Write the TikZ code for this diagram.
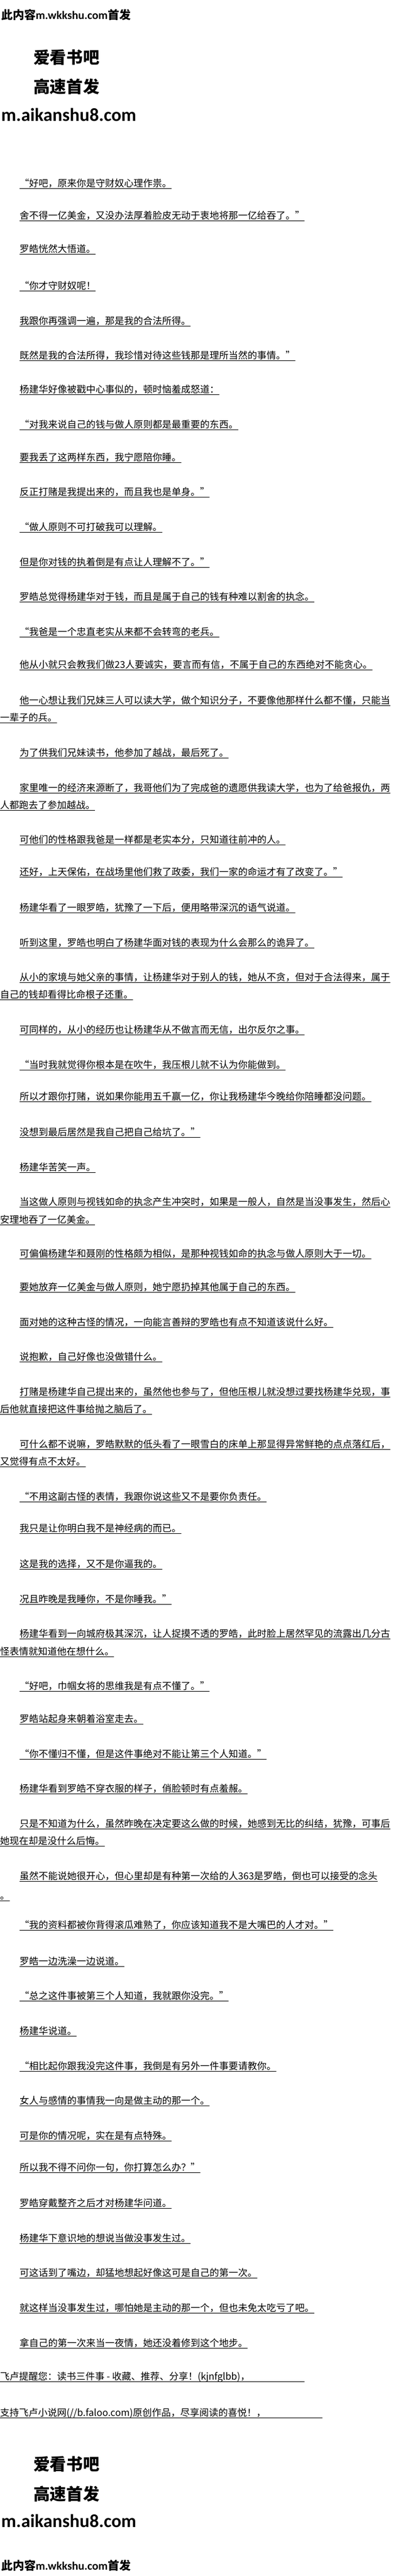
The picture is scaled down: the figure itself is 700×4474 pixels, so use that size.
\documentclass[tikz,border=0pt]{standalone}
\usepackage{fontspec}
\newfontfamily\cjk{Noto Sans CJK SC}
\newfontfamily\carl{Carlito}
\newcommand\tl[4]{\node[txt] (#1) at (#2,#3) {#4};\draw[ul] ([yshift=-3pt]#1.base west) -- ([yshift=-3pt]#1.base east);}
\newcommand\ftl[5]{\node[txt] (#1) at (#2,#3) {#4};\coordinate (#1e) at (#5,#3);\draw[ul] ([yshift=-3pt]#1.base west) -- ([yshift=-3]#1e);}
\begin{document}
\begin{tikzpicture}[x=1pt,y=-1pt,
  txt/.style={anchor=base west,inner sep=0pt,font=\cjk\fontsize{16.5}{20}\selectfont},
  ul/.style={line width=0.7pt},
  hd/.style={anchor=base west,inner sep=0pt,font=\cjk\bfseries\fontsize{28.6}{32}\selectfont},
  url/.style={anchor=base west,inner sep=0pt,font=\carl\bfseries\fontsize{32}{36}\selectfont},
  top/.style={anchor=base west,inner sep=0pt,font=\cjk\bfseries\fontsize{20}{24}\selectfont}]
\useasboundingbox[fill=white] (0,0) rectangle (700,4474);
\node[top] (h1) at (2,33) {此内容{\carl\bfseries m.wkkshu.com}首发};
\node[hd] (h2) at (58,110) {爱看书吧};
\node[hd] (h3) at (58,161) {高速首发};
\node[url] (h4) at (2,210) {m.aikanshu8.com};
\def\I{34}
\tl{a1}{\I}{324}{“好吧，原来你是守财奴心理作祟。}
\tl{a2}{\I}{380}{舍不得一亿美金，又没办法厚着脸皮无动于衷地将那一亿给吞了。”}
\tl{a3}{\I}{438}{罗皓恍然大悟道。}
\tl{a4}{\I}{502}{“你才守财奴呢！}
\tl{a5}{\I}{563}{我跟你再强调一遍，那是我的合法所得。}
\tl{a6}{\I}{623}{既然是我的合法所得，我珍惜对待这些钱那是理所当然的事情。”}
\tl{a7}{\I}{682}{杨建华好像被戳中心事似的，顿时恼羞成怒道：}
\tl{a8}{\I}{743}{“对我来说自己的钱与做人原则都是最重要的东西。}
\tl{a9}{\I}{800}{要我丢了这两样东西，我宁愿陪你睡。}
\tl{a10}{\I}{860}{反正打赌是我提出来的，而且我也是单身。”}
\tl{a11}{\I}{921}{“做人原则不可打破我可以理解。}
\tl{a12}{\I}{982}{但是你对钱的执着倒是有点让人理解不了。”}
\tl{a13}{\I}{1042}{罗皓总觉得杨建华对于钱，而且是属于自己的钱有种难以割舍的执念。}
\tl{a14}{\I}{1103}{“我爸是一个忠直老实从来都不会转弯的老兵。}
\tl{a15}{\I}{1160}{他从小就只会教我们做23人要诚实，要言而有信，不属于自己的东西绝对不能贪心。}
\tl{a16}{\I}{1222}{他一心想让我们兄妹三人可以读大学，做个知识分子，不要像他那样什么都不懂，只能当}
\tl{a16b}{0}{1252}{一辈子的兵。}
\tl{a17}{\I}{1313}{为了供我们兄妹读书，他参加了越战，最后死了。}
\tl{a18}{\I}{1374}{家里唯一的经济来源断了，我哥他们为了完成爸的遗愿供我读大学，也为了给爸报仇，两}
\tl{a18b}{0}{1404}{人都跑去了参加越战。}
\tl{a19}{\I}{1464}{可他们的性格跟我爸是一样都是老实本分，只知道往前冲的人。}
\tl{a20}{\I}{1520}{还好，上天保佑，在战场里他们救了政委，我们一家的命运才有了改变了。”}
\tl{a21}{\I}{1582}{杨建华看了一眼罗皓，犹豫了一下后，便用略带深沉的语气说道。}
\tl{a22}{\I}{1643}{听到这里，罗皓也明白了杨建华面对钱的表现为什么会那么的诡异了。}
\tl{a23}{\I}{1703}{从小的家境与她父亲的事情，让杨建华对于别人的钱，她从不贪，但对于合法得来，属于}
\tl{a23b}{0}{1733}{自己的钱却看得比命根子还重。}
\tl{a24}{\I}{1794}{可同样的，从小的经历也让杨建华从不做言而无信，出尔反尔之事。}
\tl{a25}{\I}{1855}{“当时我就觉得你根本是在吹牛，我压根儿就不认为你能做到。}
\tl{a26}{\I}{1910}{所以才跟你打赌，说如果你能用五千赢一亿，你让我杨建华今晚给你陪睡都没问题。}
\tl{a27}{\I}{1972}{没想到最后居然是我自己把自己给坑了。”}
\tl{a28}{\I}{2033}{杨建华苦笑一声。}
\tl{a29}{\I}{2093}{当这做人原则与视钱如命的执念产生冲突时，如果是一般人，自然是当没事发生，然后心}
\tl{a29b}{0}{2124}{安理地吞了一亿美金。}
\tl{a30}{\I}{2183}{可偏偏杨建华和聂刚的性格颇为相似，是那种视钱如命的执念与做人原则大于一切。}
\tl{a31}{\I}{2241}{要她放弃一亿美金与做人原则，她宁愿扔掉其他属于自己的东西。}
\tl{a32}{\I}{2302}{面对她的这种古怪的情况，一向能言善辩的罗皓也有点不知道该说什么好。}
\tl{a33}{\I}{2362}{说抱歉，自己好像也没做错什么。}
\tl{a34}{\I}{2423}{打赌是杨建华自己提出来的，虽然他也参与了，但他压根儿就没想过要找杨建华兑现，事}
\tl{a34b}{0}{2453}{后他就直接把这件事给抛之脑后了。}
\tl{a35}{\I}{2514}{可什么都不说嘛，罗皓默默的低头看了一眼雪白的床单上那显得异常鲜艳的点点落红后，}
\tl{a35b}{0}{2544}{又觉得有点不太好。}
\tl{a36}{\I}{2605}{“不用这副古怪的表情，我跟你说这些又不是要你负责任。}
\tl{a37}{\I}{2660}{我只是让你明白我不是神经病的而已。}
\tl{a38}{\I}{2722}{这是我的选择，又不是你逼我的。}
\tl{a39}{\I}{2783}{况且昨晚是我睡你，不是你睡我。”}
\tl{a40}{\I}{2843}{杨建华看到一向城府极其深沉，让人捉摸不透的罗皓，此时脸上居然罕见的流露出几分古}
\tl{a40b}{0}{2874}{怪表情就知道他在想什么。}
\tl{a41}{\I}{2934}{“好吧，巾帼女将的思维我是有点不懂了。”}
\tl{a42}{\I}{2991}{罗皓站起身来朝着浴室走去。}
\tl{a43}{\I}{3052}{“你不懂归不懂，但是这件事绝对不能让第三个人知道。”}
\tl{a44}{\I}{3112}{杨建华看到罗皓不穿衣服的样子，俏脸顿时有点羞赧。}
\tl{a45}{\I}{3173}{只是不知道为什么，虽然昨晚在决定要这么做的时候，她感到无比的纠结，犹豫，可事后}
\tl{a45b}{0}{3203}{她现在却是没什么后悔。}
\tl{a46}{\I}{3264}{虽然不能说她很开心，但心里却是有种第一次给的人363是罗皓，倒也可以接受的念头}
\tl{a46b}{0}{3298}{。}
\tl{a47}{\I}{3349}{“我的资料都被你背得滚瓜难熟了，你应该知道我不是大嘴巴的人才对。”}
\tl{a48}{\I}{3412}{罗皓一边洗澡一边说道。}
\tl{a49}{\I}{3472}{“总之这件事被第三个人知道，我就跟你没完。”}
\tl{a50}{\I}{3533}{杨建华说道。}
\tl{a51}{\I}{3594}{“相比起你跟我没完这件事，我倒是有另外一件事要请教你。}
\tl{a52}{\I}{3654}{女人与感情的事情我一向是做主动的那一个。}
\tl{a53}{\I}{3715}{可是你的情况呢，实在是有点特殊。}
\tl{a54}{\I}{3770}{所以我不得不问你一句，你打算怎么办？”}
\tl{a55}{\I}{3832}{罗皓穿戴整齐之后才对杨建华问道。}
\tl{a56}{\I}{3893}{杨建华下意识地的想说当做没事发生过。}
\tl{a57}{\I}{3953}{可这话到了嘴边，却猛地想起好像这可是自己的第一次。}
\tl{a58}{\I}{4014}{就这样当没事发生过，哪怕她是主动的那一个，但也未免太吃亏了吧。}
\tl{a59}{\I}{4075}{拿自己的第一次来当一夜情，她还没着修到这个地步。}
\ftl{f1}{0}{4133}{飞卢提醒您：读书三件事 - 收藏、推荐、分享！(kjnfglbb)，}{529}
\ftl{f2}{0}{4196}{支持飞卢小说网(//b.faloo.com)原创作品，尽享阅读的喜悦！，}{560}
\node[hd] (g2) at (58,4290) {爱看书吧};
\node[hd] (g3) at (58,4342) {高速首发};
\node[url] (g4) at (2,4389) {m.aikanshu8.com};
\node[top] (g1) at (2,4463) {此内容{\carl\bfseries m.wkkshu.com}首发};
\end{tikzpicture}
\end{document}
